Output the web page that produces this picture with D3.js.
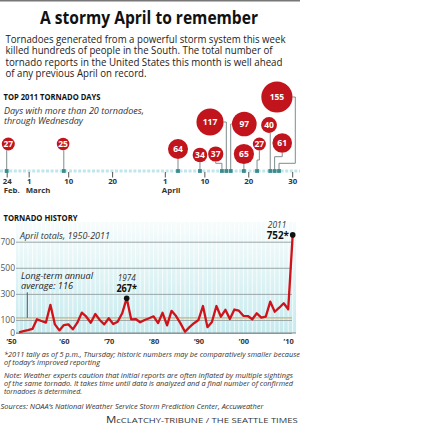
<!DOCTYPE html>
<html>
<head>
<meta charset="utf-8">
<script src="https://cdn.jsdelivr.net/npm/d3@7"></script>
<style>
  body { margin: 0; background: #fff; }
  svg { display: block; }
  text { font-family: "Open Sans", "Noto Sans", sans-serif; }
</style>
</head>
<body>
<svg id="chart" width="431" height="425"></svg>
<script>
// top 2011 tornado days (more than 20 tornadoes)
const dayDates = ["2011-02-24", "2011-03-09", "2011-04-04", "2011-04-09", "2011-04-14", "2011-04-15",
    "2011-04-16", "2011-04-19", "2011-04-22", "2011-04-25", "2011-04-26", "2011-04-27"];
const dayCounts = [27, 25, 64, 34, 37, 117, 97, 65, 27, 40, 61, 155];
const dayTicks = ["2011-02-24", "2011-03-01", "2011-03-10", "2011-03-20", "2011-04-01", "2011-04-10", "2011-04-20", "2011-04-30"];
const dayTickLabels = ["24", "1", "10", "20", "1", "10", "20", "30"];
const dayTickMonths = ["Feb.", "March", "", "", "April", "", "", ""];

// april totals 1950-2011
const aprilYears = d3.range(1950, 2012);
const aprilTotals = [5, 15, 22, 31, 105, 92, 80, 216, 66, 20,
    61, 66, 28, 79, 156, 125, 79, 146, 100, 66,
    113, 69, 87, 151, 267, 105, 107, 82, 100, 113,
    128, 76, 155, 58, 170, 130, 74, 10, 45, 75,
    100, 207, 45, 85, 207, 125, 178, 107, 180, 171,
    132, 130, 105, 151, 118, 125, 240, 163, 194, 228,
    182, 752];
const historyTicks = [0, 100, 300, 500, 700];
const decadeTicks = [1950, 1960, 1970, 1980, 1990, 2000, 2010];
const decadeLabels = ["’50", "’60", "’70", "’80", "’90", "’00", "’10"];
const longTermAverage = 116;
const highlightYears = [1974, 2011];

// hand placement of the bubbles above their day marker
const bubbleLayout = [
    {dx: 1.6, cy: 144, type: "down"},
    {dx: -0.7, cy: 144, type: "down"},
    {dx: 0, cy: 149, type: "down"},
    {dx: 0, cy: 155, type: "down"},
    {dx: -6.2, cy: 154, type: "elbow", bend: 163.3},
    {dx: -16.3, cy: 122, type: "side", side: 1},
    {dx: 13.6, cy: 124, type: "side", side: -1},
    {dx: 0, cy: 154, type: "down"},
    {dx: 2.3, cy: 144, type: "elbow", bend: 160},
    {dx: -1.2, cy: 125, type: "down"},
    {dx: 7.6, cy: 143, type: "elbow", bend: 156.7},
    {dx: -2.1, cy: 97, type: "side", side: 1, out: 295.3, bend: 163.3}
];

const svg = d3.select("#chart");
svg.append("rect").attr("width", 431).attr("height", 425).attr("fill", "#fff");

function label(x, y, s, o = {}) {
    const t = svg.append("text")
        .attr("x", x).attr("y", y).text(s)
        .attr("font-size", o.size || 10)
        .attr("fill", o.fill || "#222")
        .attr("text-anchor", o.anchor || "start");
    if (o.weight) t.attr("font-weight", o.weight);
    if (o.style) t.attr("font-style", o.style);
    if (o.family) t.attr("font-family", o.family);
    if (o.spacing) t.attr("letter-spacing", o.spacing);
    if (o.width) t.attr("textLength", o.width).attr("lengthAdjust", "spacingAndGlyphs");
    return t;
}

// header
svg.append("line").attr("x1", 0).attr("x2", 300).attr("y1", 0.75).attr("y2", 0.75)
    .attr("stroke", "#777").attr("stroke-width", 1.5);
label(149, 24, "A stormy April to remember", {size: 17, weight: "bold", anchor: "middle", fill: "#111", width: 218});

const intro = [
    ["Tornadoes generated from a powerful storm system this week", 280],
    ["killed hundreds of people in the South. The total number of", 267],
    ["tornado reports in the United States this month is well ahead", 277],
    ["of any previous April on record.", 141]
];
intro.forEach(([s, w], i) => label(5.5, 42.7 + i * 11.55, s, {size: 10, width: w}));

// ---- top 2011 tornado days ----
label(3.5, 100, "TOP 2011 TORNADO DAYS", {size: 8.5, weight: "bold", fill: "#111", width: 97});
label(4, 114, "Days with more than 20 tornadoes,", {size: 9, style: "italic", fill: "#333", width: 140});
label(4, 123.5, "through Wednesday", {size: 9, style: "italic", fill: "#333", width: 79});

const parse = d3.timeParse("%Y-%m-%d");
const axisY = 171;
const tx = d3.scaleTime([parse("2011-02-24"), parse("2011-04-30")], [6.7, 292.2]);
const rad = d3.scaleSqrt([0, 155], [0, 15.6]);

svg.append("line").attr("x1", 0).attr("x2", 300).attr("y1", axisY).attr("y2", axisY)
    .attr("stroke", "#bfe7eb").attr("stroke-width", 3).attr("stroke-dasharray", "3,1.6");

const dayAxis = svg.append("g")
    .attr("transform", `translate(0,${axisY + 1})`)
    .call(d3.axisBottom(tx)
        .tickValues(dayTicks.map(parse))
        .tickFormat((d, i) => dayTickLabels[i])
        .tickSize(5.5)
        .tickSizeOuter(0));
dayAxis.select(".domain").remove();
dayAxis.selectAll(".tick line").attr("stroke", "#555");
dayAxis.selectAll(".tick text")
    .attr("y", 12.3).attr("dy", null)
    .attr("font-family", null).attr("font-size", 7.8).attr("font-weight", "bold").attr("fill", "#333");
dayAxis.selectAll(".tick").append("text")
    .attr("x", -3.5).attr("y", 20.9)
    .attr("text-anchor", "start")
    .attr("font-size", 7.8).attr("font-weight", "bold").attr("fill", "#333")
    .text((d, i) => dayTickMonths[i]);

const days = dayDates.map((d, i) => {
    const mx = tx(parse(d));
    const lay = bubbleLayout[i];
    return {mx, cx: mx + lay.dx, cy: lay.cy, r: rad(dayCounts[i]), n: dayCounts[i], lay};
});

function connector(d) {
    const p = d3.path();
    const L = d.lay;
    if (L.type === "down") {
        const off = Math.sqrt(Math.max(d.r * d.r - (d.mx - d.cx) ** 2, 0));
        p.moveTo(d.mx, d.cy + off);
        p.lineTo(d.mx, axisY);
    } else if (L.type === "elbow") {
        p.moveTo(d.cx, d.cy + d.r);
        p.lineTo(d.cx, L.bend);
        p.lineTo(d.mx, L.bend);
        p.lineTo(d.mx, axisY);
    } else {
        const edge = d.cx + L.side * d.r;
        const out = L.out !== undefined ? L.out : (L.side > 0 ? Math.max(edge, d.mx) : Math.min(edge, d.mx));
        p.moveTo(edge, d.cy);
        p.lineTo(out, d.cy);
        if (L.bend !== undefined) {
            p.lineTo(out, L.bend);
            p.lineTo(d.mx, L.bend);
        }
        p.lineTo(d.mx, axisY);
    }
    return p.toString();
}

svg.append("g").selectAll("path").data(days).join("path")
    .attr("d", connector)
    .attr("fill", "none").attr("stroke", "#7f8c8d").attr("stroke-width", 1);

svg.append("g").selectAll("rect").data(days).join("rect")
    .attr("x", d => d.mx - 1.9).attr("y", axisY - 1.9)
    .attr("width", 3.8).attr("height", 3.8)
    .attr("fill", "#3a8b8f");

const bub = svg.append("g").selectAll("g").data(days).join("g")
    .attr("transform", d => `translate(${d.cx},${d.cy})`);
bub.append("circle").attr("r", d => d.r).attr("fill", "#c2141c");
bub.append("text")
    .attr("text-anchor", "middle").attr("dy", "0.35em")
    .attr("font-size", 8.5).attr("font-weight", "bold").attr("fill", "#fff")
    .text(d => d.n);

// ---- tornado history ----
label(3.5, 221, "TORNADO HISTORY", {size: 8.5, weight: "bold", fill: "#111", width: 74});

const x = d3.scaleLinear([1950, 2011], [19, 292.7]);
const y = d3.scaleLinear([0, 700], [333, 241.7]);
const plotL = 16, plotR = 296, plotT = 222;

const grad = svg.append("defs").append("linearGradient")
    .attr("id", "bg").attr("x1", 0).attr("x2", 0).attr("y1", 0).attr("y2", 1);
grad.append("stop").attr("offset", 0).attr("stop-color", "#f7fcfc");
grad.append("stop").attr("offset", 1).attr("stop-color", "#c6eaee");

svg.append("rect").attr("x", plotL).attr("y", plotT)
    .attr("width", plotR - plotL).attr("height", y(0) - plotT)
    .attr("fill", "url(#bg)");

svg.append("g").selectAll("line").data(aprilYears).join("line")
    .attr("x1", d => x(d)).attr("x2", d => x(d))
    .attr("y1", plotT).attr("y2", y(0))
    .attr("stroke", "#fff").attr("stroke-opacity", 0.75).attr("stroke-width", 1);

const yAxis = svg.append("g")
    .attr("transform", `translate(${plotL},0)`)
    .call(d3.axisLeft(y).tickValues(historyTicks).tickSize(-(292 - plotL)).tickPadding(1));
yAxis.select(".domain").remove();
yAxis.selectAll(".tick line").attr("stroke", "#9aa6a8").attr("stroke-width", 1);
yAxis.selectAll(".tick text")
    .attr("font-family", null).attr("font-size", 8.5).attr("fill", "#555");

svg.append("line").attr("x1", plotL).attr("x2", plotR).attr("y1", y(0)).attr("y2", y(0))
    .attr("stroke", "#7d8a8c").attr("stroke-width", 1);

svg.append("line").attr("x1", plotL).attr("x2", 292)
    .attr("y1", y(longTermAverage)).attr("y2", y(longTermAverage))
    .attr("stroke", "#c9b27c").attr("stroke-width", 1.3);

const xAxis = svg.append("g")
    .attr("transform", `translate(0,${y(0)})`)
    .call(d3.axisBottom(x).tickValues(decadeTicks).tickSize(0).tickFormat((d, i) => decadeLabels[i]));
xAxis.select(".domain").remove();
xAxis.selectAll(".tick text")
    .attr("y", 10.8).attr("dy", null)
    .attr("font-family", null).attr("font-size", 7.5).attr("font-weight", "bold").attr("fill", "#333");
xAxis.selectAll(".tick").filter(d => d === 1950).select("text").attr("x", -8);

label(20, 238.7, "April totals, 1950-2011", {size: 9.5, style: "italic", fill: "#333", width: 90});
label(21, 279, "Long-term annual", {size: 9, style: "italic", fill: "#222", width: 72});
label(21, 289, "average: 116", {size: 9, style: "italic", fill: "#222", width: 52});
svg.append("line").attr("x1", 27.3).attr("x2", 27.3).attr("y1", 292.3).attr("y2", y(longTermAverage))
    .attr("stroke", "#555").attr("stroke-width", 1);

const series = aprilYears.map((yr, i) => ({yr, v: aprilTotals[i]}));
svg.append("path").datum(series)
    .attr("d", d3.line().x(d => x(d.yr)).y(d => y(d.v)))
    .attr("fill", "none").attr("stroke", "#d0121b").attr("stroke-width", 2.3)
    .attr("stroke-linejoin", "round");

const hi = series.filter(d => highlightYears.includes(d.yr));
svg.append("g").selectAll("circle").data(hi).join("circle")
    .attr("cx", d => x(d.yr)).attr("cy", d => y(d.v)).attr("r", 2.8).attr("fill", "#111");

const serif = '"DejaVu Serif", "Liberation Serif", serif';
const h74 = hi[0], h11 = hi[1];
label(x(h74.yr), 280.5, String(h74.yr), {size: 9, style: "italic", family: serif, anchor: "middle", fill: "#333", width: 18});
label(x(h74.yr), 292.3, h74.v + "*", {size: 10.5, weight: "bold", anchor: "middle", fill: "#111", width: 20.6});
label(286.3, 228, String(h11.yr), {size: 9, style: "italic", family: serif, anchor: "end", fill: "#333", width: 18.5});
label(289, 239.3, h11.v + "*", {size: 10.5, weight: "bold", anchor: "end", fill: "#111", width: 22.3});

// footnotes
const notes = [
    ["*2011 tally as of 5 p.m., Thursday; historic numbers may be comparatively smaller because", 4, 357.3, 296],
    ["of today’s improved reporting", 4, 365.4, 96],
    ["Note: Weather experts caution that initial reports are often inflated by multiple sightings", 4, 377.5, 289],
    ["of the same tornado. It takes time until data is analyzed and a final number of confirmed", 4, 386, 289],
    ["tornadoes is determined.", 4, 394.2, 78],
    ["Sources: NOAA’s National Weather Service Storm Prediction Center, Accuweather", 0.5, 408.5, 263]
];
notes.forEach(([s, nx, ny, w]) => label(nx, ny, s, {size: 7.5, style: "italic", fill: "#333", width: w}));

const credit = label(297.7, 422.5, "", {size: 7, family: serif, anchor: "end", fill: "#333", width: 191.7});
credit.append("tspan").attr("font-size", 8.5).text("M");
credit.append("tspan").text("cCLATCHY-TRIBUNE / THE SEATTLE TIMES");
</script>
</body>
</html>
